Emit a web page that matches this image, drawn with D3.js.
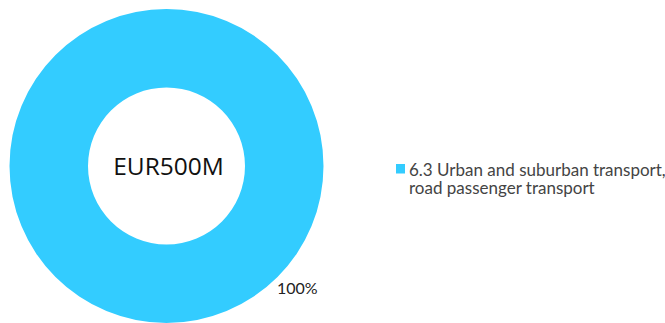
<!DOCTYPE html>
<html>
<head>
<meta charset="utf-8">
<script src="https://cdn.jsdelivr.net/npm/d3@7"></script>
<style>
  body { margin: 0; background: #fff; }
  svg { display: block; }
</style>
</head>
<body>
<div id="chart"></div>
<script>
const categories = ['6.3 Urban and suburban transport, road passenger transport']
const legendLines = [['6.3 Urban and suburban transport,', 'road passenger transport']]
const values = [500]
const colors = ['#33ccff']
const centerLabel = 'EUR500M'

const width = 665, height = 323
const cx = 166.5, cy = 166, outerR = 157, innerR = 78.5

const svg = d3.select('#chart').append('svg')
    .attr('width', width)
    .attr('height', height)

const pie = d3.pie().sort(null)
const arc = d3.arc().innerRadius(innerR).outerRadius(outerR)
const total = d3.sum(values)

const g = svg.append('g').attr('transform', `translate(${cx}, ${cy})`)

g.selectAll('path')
    .data(pie(values))
    .join('path')
    .attr('fill', (d, i) => colors[i])
    .attr('d', arc)

// percentage labels sit just outside the ring, lower right
g.selectAll('text.pct')
    .data(pie(values))
    .join('text')
    .attr('class', 'pct')
    .attr('x', 110.5)
    .attr('y', 128)
    .attr('font-family', 'Lato')
    .attr('font-size', 16)
    .attr('fill', '#222')
    .text(d => Math.round(d.value / total * 100) + '%')

g.append('text')
    .attr('text-anchor', 'middle')
    .attr('x', 2)
    .attr('y', 9)
    .attr('font-family', 'Open Sans')
    .attr('font-size', 24.5)
    .attr('fill', '#111')
    .text(centerLabel)

const legend = svg.append('g').attr('transform', 'translate(396, 164)')
const item = legend.selectAll('g')
    .data(categories)
    .join('g')

item.append('rect')
    .attr('width', 9)
    .attr('height', 9.5)
    .attr('fill', (d, i) => colors[i])

item.append('text')
    .attr('font-family', 'Lato')
    .attr('font-size', 17)
    .attr('fill', '#444')
    .selectAll('tspan')
    .data((d, i) => legendLines[i])
    .join('tspan')
    .attr('x', 13)
    .attr('y', (d, i) => 12 + i * 17.5)
    .text(d => d)
</script>
</body>
</html>
